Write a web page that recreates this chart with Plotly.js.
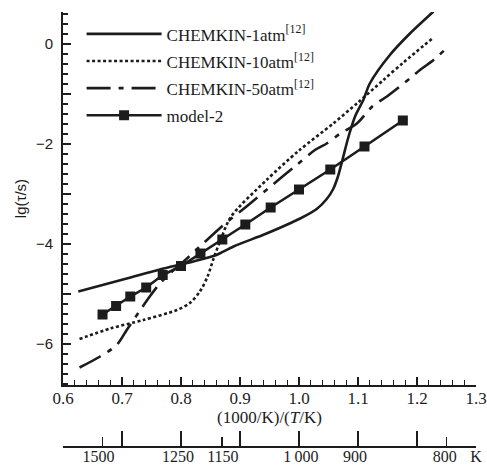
<!DOCTYPE html>
<html><head><meta charset="utf-8">
<script src="https://cdn.plot.ly/plotly-3.0.1.min.js"></script>
<style>html,body{margin:0;padding:0;background:#fff}#chart{width:487px;height:468px}</style>
</head><body><div id="chart"></div>
<script>
// CHEMKIN 1 atm
var x1atm = [0.626, 0.708, 0.764, 0.821, 0.860, 0.889, 0.945, 1.002, 1.030, 1.047, 1.058, 1.066, 1.074, 1.084, 1.095, 1.109, 1.120, 1.154, 1.188, 1.228];
var y1atm = [-4.95, -4.69, -4.51, -4.35, -4.22, -4.05, -3.79, -3.49, -3.30, -3.10, -2.90, -2.65, -2.30, -1.85, -1.45, -1.12, -0.79, -0.22, 0.21, 0.65];
// CHEMKIN 10 atm
var x10atm = [0.628, 0.680, 0.736, 0.793, 0.815, 0.832, 0.845, 0.855, 0.866, 0.885, 0.945, 1.000, 1.058, 1.100, 1.143, 1.177, 1.225];
var y10atm = [-5.90, -5.69, -5.52, -5.32, -5.18, -4.95, -4.65, -4.30, -3.95, -3.45, -2.72, -2.13, -1.59, -1.17, -0.72, -0.37, 0.10];
// CHEMKIN 50 atm
var x50atm = [0.628, 0.663, 0.691, 0.708, 0.731, 0.747, 0.764, 0.781, 0.800, 0.832, 0.872, 0.911, 0.968, 0.993, 1.027, 1.047, 1.070, 1.098, 1.125, 1.149, 1.188, 1.205, 1.228, 1.247];
var y50atm = [-6.47, -6.25, -6.02, -5.72, -5.32, -5.05, -4.79, -4.59, -4.40, -4.05, -3.62, -3.25, -2.69, -2.45, -2.12, -1.99, -1.79, -1.59, -1.24, -1.05, -0.69, -0.52, -0.32, -0.12];
// model-2
var xModel = [0.667, 0.690, 0.714, 0.741, 0.769, 0.800, 0.833, 0.870, 0.909, 0.952, 1.000, 1.053, 1.111, 1.176];
var yModel = [-5.41, -5.24, -5.05, -4.87, -4.62, -4.44, -4.19, -3.91, -3.61, -3.27, -2.91, -2.51, -2.05, -1.53];
// axis ticks
var yLabelVals = [-6, -4, -2, 0];
var yLabelText = ['\u22126', '\u22124', '\u22122', '0'];
var yOddVals = [-5, -3, -1];
var tAxisMajor = [0.6, 0.7, 0.8, 0.9, 1.0, 1.1, 1.2, 1.3];
var tAxisMinor = [0.6667, 0.8696, 1.25];
var tLabelVals = [0.66, 0.795, 0.871, 1.003, 1.095, 1.247, 1.3];
var tLabelText = ['1500', '1250', '1150', '1\u2009000', '900', '800', 'K'];

var ink = '#1c1c1c';
var serif = 'Liberation Serif, Times New Roman, serif';
var sans = 'Liberation Sans, Arial, sans-serif';

var traces = [
  {x: x1atm, y: y1atm, name: 'CHEMKIN-1atm<sup>[12]</sup>', mode: 'lines', legendgroup: 'a',
   line: {color: ink, width: 2.6, shape: 'spline', smoothing: 0.8}},
  {x: x10atm, y: y10atm, name: 'CHEMKIN-10atm<sup>[12]</sup>', mode: 'lines', legendgroup: 'b',
   line: {color: ink, width: 2.6, dash: '3px,2.5px', shape: 'spline', smoothing: 0.8}},
  {x: x50atm, y: y50atm, name: 'CHEMKIN-50atm<sup>[12]</sup>', mode: 'lines', legendgroup: 'c',
   line: {color: ink, width: 2.6, dash: '24px,8px,5px,8px', shape: 'spline', smoothing: 0.8}},
  {x: xModel, y: yModel, name: 'model-2', mode: 'lines+markers', legendgroup: 'd',
   line: {color: ink, width: 2.6}, marker: {symbol: 'square', size: 10, color: ink}},
  // carrier traces for the extra axes
  {x: [0.6, 1.3], y: [null, null], xaxis: 'x2', yaxis: 'y', showlegend: false, hoverinfo: 'skip', mode: 'lines'},
  {x: [0.6, 1.3], y: [null, null], xaxis: 'x3', yaxis: 'y', showlegend: false, hoverinfo: 'skip', mode: 'lines'},
  {x: [null, null], y: [-6, 0], xaxis: 'x', yaxis: 'y2', showlegend: false, hoverinfo: 'skip', mode: 'lines'}
];

var layout = {
  width: 487, height: 468,
  margin: {l: 63, r: 11, t: 12, b: 21},
  paper_bgcolor: '#fff', plot_bgcolor: '#fff',
  showlegend: true,
  legend: {x: 0.045, y: 0.99, xanchor: 'left', yanchor: 'top', bgcolor: 'rgba(0,0,0,0)',
           font: {family: serif, size: 17, color: ink}, itemwidth: 75, tracegroupgap: 2},
  xaxis: {
    range: [0.6, 1.3], anchor: 'y', showgrid: false, zeroline: false,
    showline: true, linecolor: ink, linewidth: 2,
    ticks: 'inside', ticklen: 8, tickwidth: 1.8, tickcolor: ink,
    tickmode: 'linear', tick0: 0.6, dtick: 0.1, tickformat: '.1f',
    minor: {ticks: 'inside', ticklen: 5, tickwidth: 1.2, tickcolor: ink, dtick: 0.02, tick0: 0.6},
    tickfont: {family: serif, size: 17, color: ink}, ticklabelstandoff: -3,
    title: {text: '(1000/K)/(<i>T</i>/K)', font: {family: serif, size: 17, color: ink}, standoff: 4}
  },
  xaxis2: {
    range: [0.6, 1.3], overlaying: 'x', anchor: 'free', position: 0, side: 'bottom',
    showgrid: false, zeroline: false, showline: true, linecolor: ink, linewidth: 2,
    tickmode: 'array', tickvals: tAxisMajor, showticklabels: false,
    ticks: 'inside', ticklen: 15, tickwidth: 2, tickcolor: ink
  },
  xaxis3: {
    range: [0.6, 1.3], overlaying: 'x', anchor: 'free', position: 0, side: 'bottom',
    showgrid: false, zeroline: false, showline: false,
    tickmode: 'array', tickvals: tLabelVals, ticktext: tLabelText, ticks: '',
    tickfont: {family: serif, size: 16, color: ink}, ticklabelstandoff: -2,
    minor: {tickmode: 'array', tickvals: tAxisMinor, ticks: 'inside', ticklen: 10, tickwidth: 1.6, tickcolor: ink, showgrid: false}
  },
  yaxis: {
    range: [-6.82, 0.64], domain: [0.1425, 1], showgrid: false, zeroline: false,
    showline: true, linecolor: ink, linewidth: 2,
    tickmode: 'array', tickvals: yLabelVals, ticktext: yLabelText,
    ticks: 'inside', ticklen: 8, tickwidth: 1.8, tickcolor: ink, ticklabelstandoff: 5,
    minor: {ticks: 'inside', ticklen: 5, tickwidth: 1.2, tickcolor: ink, tickmode: 'linear', tick0: 0, dtick: 0.2},
    tickfont: {family: sans, size: 15, color: ink},
    title: {text: 'lg(\u03c4/s)', font: {family: sans, size: 15, color: ink}, standoff: 6}
  },
  yaxis2: {
    range: [-6.82, 0.64], domain: [0.1425, 1], overlaying: 'y', anchor: 'x', side: 'left',
    showgrid: false, zeroline: false, showline: false,
    tickmode: 'array', tickvals: yOddVals, showticklabels: false,
    ticks: 'inside', ticklen: 8, tickwidth: 1.8, tickcolor: ink
  }
};

Plotly.newPlot('chart', traces, layout, {displayModeBar: false, staticPlot: true});
</script>
</body></html>
